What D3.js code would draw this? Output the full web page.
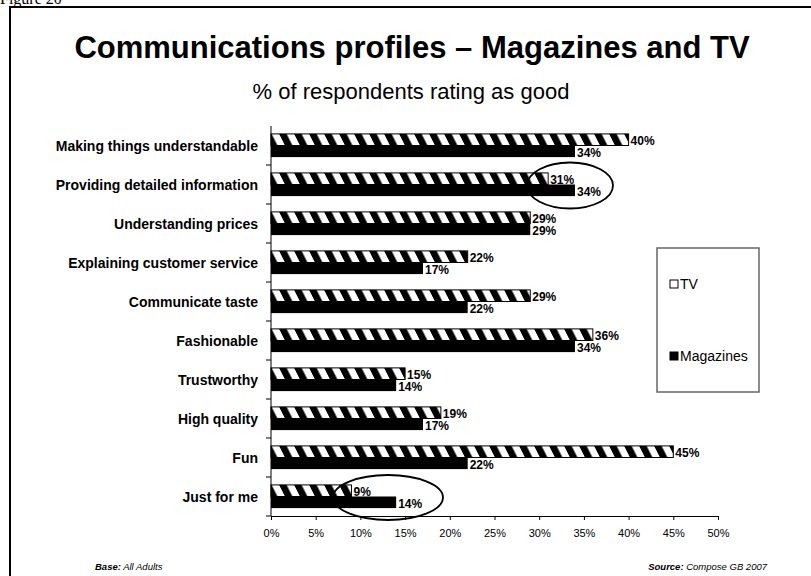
<!DOCTYPE html>
<html>
<head>
<meta charset="utf-8">
<script src="https://cdnjs.cloudflare.com/ajax/libs/d3/7.8.5/d3.min.js"></script>
<style>
  html, body { margin: 0; padding: 0; background: #fff; }
  svg { display: block; font-family: "Liberation Sans", Arial, sans-serif; }
</style>
</head>
<body>
<svg id="chart" width="811" height="576"></svg>
<script>
// Communications profiles: share of respondents rating each attribute as good
const categories = [
  "Making things understandable",
  "Providing detailed information",
  "Understanding prices",
  "Explaining customer service",
  "Communicate taste",
  "Fashionable",
  "Trustworthy",
  "High quality",
  "Fun",
  "Just for me"
];
const tvValues = [40, 31, 29, 22, 29, 36, 15, 19, 45, 9];
const magazineValues = [34, 34, 29, 17, 22, 34, 14, 17, 22, 14];
const seriesNames = ["TV", "Magazines"];
const xTicks = [0, 5, 10, 15, 20, 25, 30, 35, 40, 45, 50];
// categories whose comparison is ringed on the chart
const highlighted = ["Providing detailed information", "Just for me"];

const svg = d3.select("#chart");

// pattern for the TV bars: slanted black and white stripes
const defs = svg.append("defs");
const pat = defs.append("pattern")
  .attr("id", "stripes")
  .attr("patternUnits", "userSpaceOnUse")
  .attr("width", 15).attr("height", 40)
  .attr("patternTransform", "skewX(27)");
pat.append("rect").attr("width", 15).attr("height", 40).attr("fill", "#fff");
pat.append("rect").attr("width", 7.5).attr("height", 40).attr("fill", "#000");

// figure caption above the frame
svg.append("text").attr("x", 0).attr("y", 4)
  .attr("font-family", "'Liberation Serif', 'Times New Roman', serif")
  .attr("font-size", 16).text("Figure 20");

// outer frame
svg.append("rect").attr("x", 10).attr("y", 7).attr("width", 820).attr("height", 600)
  .attr("fill", "none").attr("stroke", "#000").attr("stroke-width", 2);

// titles
svg.append("text").attr("x", 412).attr("y", 58).attr("text-anchor", "middle")
  .attr("font-size", 31).attr("font-weight", "bold")
  .text("Communications profiles \u2013 Magazines and TV");
svg.append("text").attr("x", 411).attr("y", 99).attr("text-anchor", "middle")
  .attr("font-size", 22)
  .text("% of respondents rating as good");

// scales
const x = d3.scaleLinear().domain([0, 50]).range([271, 718]);
const y = d3.scaleBand().domain(categories).range([126, 516]).paddingInner(0).paddingOuter(0);
const barH = 11.6;

const plot = svg.append("g");

// category rows
const rows = plot.selectAll("g.row").data(categories).join("g")
  .attr("class", "row")
  .attr("transform", d => `translate(0,${y(d) + y.bandwidth() / 2})`);

// TV bars (striped)
rows.append("rect")
  .attr("x", x(0))
  .attr("y", -barH)
  .attr("width", (d, i) => x(tvValues[i]) - x(0))
  .attr("height", barH)
  .attr("fill", "url(#stripes)")
  .attr("stroke", "#000").attr("stroke-width", 1);

// Magazine bars (solid)
rows.append("rect")
  .attr("x", x(0))
  .attr("y", 0)
  .attr("width", (d, i) => x(magazineValues[i]) - x(0))
  .attr("height", barH)
  .attr("fill", "#000");

// value labels
rows.append("text")
  .attr("x", (d, i) => x(tvValues[i]) + 2)
  .attr("y", -barH / 2 + 5)
  .attr("font-size", 12).attr("font-weight", "bold")
  .text((d, i) => tvValues[i] + "%");
rows.append("text")
  .attr("x", (d, i) => x(magazineValues[i]) + 2)
  .attr("y", barH / 2 + 6)
  .attr("font-size", 12).attr("font-weight", "bold")
  .text((d, i) => magazineValues[i] + "%");

// category labels
rows.append("text")
  .attr("x", 258)
  .attr("y", 5)
  .attr("text-anchor", "end")
  .attr("font-size", 14).attr("font-weight", "bold")
  .text(d => d);

// y axis: line with ticks between categories
const yAxisG = svg.append("g");
yAxisG.append("line").attr("x1", x(0)).attr("x2", x(0))
  .attr("y1", y.range()[0]).attr("y2", y.range()[1]).attr("stroke", "#000");
yAxisG.selectAll("line.tk").data(categories).join("line")
  .attr("class", "tk")
  .attr("x1", x(0) - 5).attr("x2", x(0))
  .attr("y1", d => y(d) + y.bandwidth())
  .attr("y2", d => y(d) + y.bandwidth())
  .attr("stroke", "#000");

// x axis
const xAxis = d3.axisBottom(x).tickValues(xTicks).tickFormat(d => d + "%").tickSize(4).tickSizeOuter(0);
const xg = svg.append("g").attr("transform", `translate(0,${y.range()[1]})`).call(xAxis);
xg.select(".domain").attr("stroke", "#000");
xg.selectAll(".tick line").attr("stroke", "#000");
xg.selectAll(".tick text").attr("font-size", 11).attr("font-family", "'Liberation Sans', Arial, sans-serif")
  .attr("fill", "#000").attr("dy", "1.25em");

// highlight rings
const ringSpec = [
  { cat: highlighted[0], cx: 570, rx: 43, ry: 23 },
  { cat: highlighted[1], cx: 388, rx: 55, ry: 22.5 }
];
svg.selectAll("ellipse.ring").data(ringSpec).join("ellipse")
  .attr("class", "ring")
  .attr("cx", d => d.cx)
  .attr("cy", d => y(d.cat) + y.bandwidth() / 2 + 1)
  .attr("rx", d => d.rx).attr("ry", d => d.ry)
  .attr("fill", "none").attr("stroke", "#000").attr("stroke-width", 1.8);

// legend
const lg = svg.append("g");
lg.append("rect").attr("x", 657).attr("y", 248).attr("width", 102).attr("height", 144)
  .attr("fill", "#fff").attr("stroke", "#666").attr("stroke-width", 1.5);
const legendItems = lg.selectAll("g.li").data(seriesNames).join("g")
  .attr("class", "li")
  .attr("transform", (d, i) => `translate(670,${284 + i * 72})`);
legendItems.append("rect")
  .attr("x", 0).attr("y", -4).attr("width", 8).attr("height", 8)
  .attr("fill", (d, i) => i === 0 ? "#fff" : "#000")
  .attr("stroke", "#000").attr("stroke-width", 1);
legendItems.append("text").attr("x", 10).attr("y", 5)
  .attr("font-size", 14).text(d => d);

// footnotes
const base = svg.append("text").attr("x", 95).attr("y", 570).attr("font-size", 9.5).attr("font-style", "italic");
base.append("tspan").attr("font-weight", "bold").text("Base:");
base.append("tspan").text(" All Adults");
const src = svg.append("text").attr("x", 767).attr("y", 570).attr("font-size", 9.5)
  .attr("font-style", "italic").attr("text-anchor", "end");
src.append("tspan").attr("font-weight", "bold").text("Source:");
src.append("tspan").text(" Compose GB 2007");
</script>
</body>
</html>
